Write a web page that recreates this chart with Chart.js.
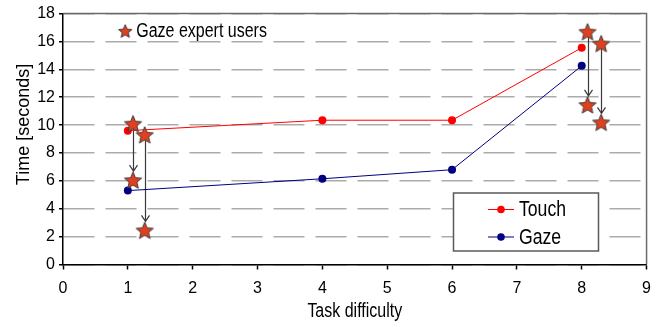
<!DOCTYPE html>
<html>
<head>
<meta charset="utf-8">
<script src="https://cdn.jsdelivr.net/npm/chart.js@4/dist/chart.umd.min.js"></script>
<style>
  html, body { margin: 0; padding: 0; background: #fff; }
  canvas { display: block; }
</style>
</head>
<body>
<canvas id="chart" width="660" height="327"></canvas>
<script>
// Mean task time per difficulty level
const difficulty = [1, 4, 6, 8];
const touchTime = [9.6, 10.35, 10.35, 15.55];
const gazeTime = [5.3, 6.15, 6.8, 14.25];

// Expert users: touch time -> gaze time (arrows)
const expertX = [1.08, 1.26, 8.09, 8.30];
const expertTouchTime = [10.1, 9.3, 16.7, 15.85];
const expertGazeTime = [6.05, 2.45, 11.45, 10.2];

// In-plot note
const noteX = [0.96];
const noteY = [16.75];
const noteText = ['Gaze expert users'];

// Axis ticks and titles
const xTickValues = [0, 1, 2, 3, 4, 5, 6, 7, 8, 9];
const yTickValues = [0, 2, 4, 6, 8, 10, 12, 14, 16, 18];
const xTitle = 'Task difficulty';
const yTitle = 'Time [seconds]';

const FONT = "'Liberation Sans', Arial, Helvetica, sans-serif";
const STAR_FILL = '#e0401f';
const STAR_EDGE = '#3c3c3c';

function makeStar(r) {
  const size = Math.ceil(r * 2 + 4);
  const c = document.createElement('canvas');
  c.width = c.height = size;
  const g = c.getContext('2d');
  const cx = size / 2, cy = size / 2 + r * 0.095;
  g.beginPath();
  for (let i = 0; i < 10; i++) {
    const a = -Math.PI / 2 + i * Math.PI / 5;
    const rr = i % 2 ? r * 0.45 : r;
    g.lineTo(cx + rr * Math.cos(a), cy + rr * Math.sin(a));
  }
  g.closePath();
  g.fillStyle = STAR_FILL;
  g.fill();
  g.lineWidth = 1;
  g.strokeStyle = STAR_EDGE;
  g.stroke();
  return c;
}

const bigStar = makeStar(9);
const smallStar = makeStar(7);

const pairs = (xs, ys) => xs.map((v, i) => ({ x: v, y: ys[i] }));

// Condensed text: full-height glyphs squeezed horizontally
function narrowText(ctx, text, x, y, size, align) {
  ctx.save();
  ctx.translate(x, y);
  ctx.scale(0.82, 1);
  ctx.font = `${size}px ${FONT}`;
  ctx.textAlign = align;
  ctx.textBaseline = 'middle';
  ctx.fillStyle = '#000';
  ctx.fillText(text, 0, 0);
  ctx.restore();
}

// Gray frame on the top and right sides of the plot area
const framePlugin = {
  id: 'frame',
  beforeDatasetsDraw(chart) {
    const { ctx, chartArea: a } = chart;
    ctx.save();
    ctx.strokeStyle = '#6a6a6a';
    ctx.lineWidth = 1.5;
    ctx.beginPath();
    ctx.moveTo(a.left, a.top);
    ctx.lineTo(a.right, a.top);
    ctx.lineTo(a.right, a.bottom);
    ctx.stroke();
    ctx.restore();
  }
};

// Vertical arrows from each expert touch time down to the gaze time
const arrowPlugin = {
  id: 'arrows',
  beforeDatasetsDraw(chart) {
    const { ctx, scales: { x, y } } = chart;
    ctx.save();
    ctx.strokeStyle = '#3a3a3a';
    ctx.lineWidth = 1.2;
    expertX.forEach((v, i) => {
      const px = Math.round(x.getPixelForValue(v)) + 0.5;
      const y1 = y.getPixelForValue(expertTouchTime[i]);
      const y2 = y.getPixelForValue(expertGazeTime[i]) - 9;
      ctx.beginPath();
      ctx.moveTo(px, y1);
      ctx.lineTo(px, y2);
      ctx.moveTo(px - 4, y2 - 6);
      ctx.lineTo(px, y2);
      ctx.lineTo(px + 4, y2 - 6);
      ctx.stroke();
    });
    ctx.restore();
  }
};

// Axis titles, note text beside its star marker, and the boxed series legend
const notesPlugin = {
  id: 'notes',
  afterDatasetsDraw(chart) {
    const { ctx, chartArea: a, scales: { x, y } } = chart;
    ctx.save();
    ctx.fillStyle = '#000';
    ctx.textBaseline = 'middle';

    // y title, rotated
    ctx.save();
    ctx.translate(24, 124.5);
    ctx.rotate(-Math.PI / 2);
    ctx.font = `18px ${FONT}`;
    ctx.textAlign = 'center';
    ctx.fillText(yTitle, 0, 0);
    ctx.restore();

    // x title
    narrowText(ctx, xTitle, (a.left + a.right) / 2, 312, 19.5, 'center');

    // note
    noteText.forEach((t, i) => {
      narrowText(ctx, t, x.getPixelForValue(noteX[i]) + 11, y.getPixelForValue(noteY[i]) + 1, 19.5, 'left');
    });

    // legend box
    const bx = 453.5, by = 193, bw = 145, bh = 58;
    ctx.fillStyle = '#fff';
    ctx.fillRect(bx, by, bw, bh);
    ctx.strokeStyle = '#5a5a5a';
    ctx.lineWidth = 1.5;
    ctx.strokeRect(bx, by, bw, bh);

    [0, 1].forEach((di, r) => {
      const ds = chart.data.datasets[di];
      const ry = 209.5 + r * 27.5;
      ctx.strokeStyle = ds.borderColor;
      ctx.lineWidth = 1;
      ctx.beginPath();
      ctx.moveTo(488, ry);
      ctx.lineTo(514, ry);
      ctx.stroke();
      ctx.fillStyle = ds.pointBackgroundColor;
      ctx.beginPath();
      ctx.arc(501, ry, 3.8, 0, Math.PI * 2);
      ctx.fill();
      narrowText(ctx, ds.label, 519, ry + 1, 21.5, 'left');
    });
    ctx.restore();
  }
};

new Chart(document.getElementById('chart'), {
  type: 'line',
  data: {
    datasets: [
      {
        label: 'Touch',
        data: pairs(difficulty, touchTime),
        borderColor: '#ff0000',
        backgroundColor: '#ff0000',
        pointBackgroundColor: '#ff0000',
        pointBorderColor: '#ff0000',
        borderWidth: 1,
        pointRadius: 4,
        pointBorderWidth: 0,
        tension: 0,
        order: 3
      },
      {
        label: 'Gaze',
        data: pairs(difficulty, gazeTime),
        borderColor: '#000080',
        backgroundColor: '#000080',
        pointBackgroundColor: '#000080',
        pointBorderColor: '#000080',
        borderWidth: 1,
        pointRadius: 4,
        pointBorderWidth: 0,
        tension: 0,
        order: 2
      },
      {
        label: 'Gaze expert users',
        data: pairs(expertX, expertTouchTime).concat(pairs(expertX, expertGazeTime)),
        showLine: false,
        pointStyle: bigStar,
        pointRadius: 9,
        order: 1
      },
      {
        label: 'note',
        data: pairs(noteX, noteY),
        showLine: false,
        pointStyle: smallStar,
        pointRadius: 7,
        order: 1
      }
    ]
  },
  options: {
    responsive: false,
    animation: false,
    events: [],
    layout: { padding: { top: 13, right: 12, left: 0, bottom: 0 } },
    plugins: {
      legend: { display: false },
      tooltip: { enabled: false }
    },
    scales: {
      x: {
        type: 'linear',
        min: 0,
        max: 9,
        afterBuildTicks: s => { s.ticks = xTickValues.map(v => ({ value: v })); },
        afterFit: s => { s.height = 62.5; },
        ticks: {
          color: '#000',
          font: { family: FONT, size: 16 },
          padding: 9,
          maxRotation: 0
        },
        grid: {
          drawOnChartArea: false,
          drawTicks: true,
          tickLength: 5,
          tickColor: '#000',
          tickWidth: 1.5
        },
        border: { color: '#000', width: 1.5 }
      },
      y: {
        type: 'linear',
        min: 0,
        max: 18,
        afterBuildTicks: s => { s.ticks = yTickValues.map(v => ({ value: v })); },
        afterFit: s => { s.width = 63; },
        ticks: {
          color: '#000',
          font: { family: FONT, size: 16 },
          padding: 4
        },
        grid: {
          color: '#ababab',
          lineWidth: 1.5,
          drawTicks: true,
          tickLength: 4,
          tickColor: '#000',
          tickWidth: 1.5
        },
        border: { color: '#000', width: 1.5, dash: [31, 11] }
      }
    }
  },
  plugins: [framePlugin, arrowPlugin, notesPlugin]
});
</script>
</body>
</html>
